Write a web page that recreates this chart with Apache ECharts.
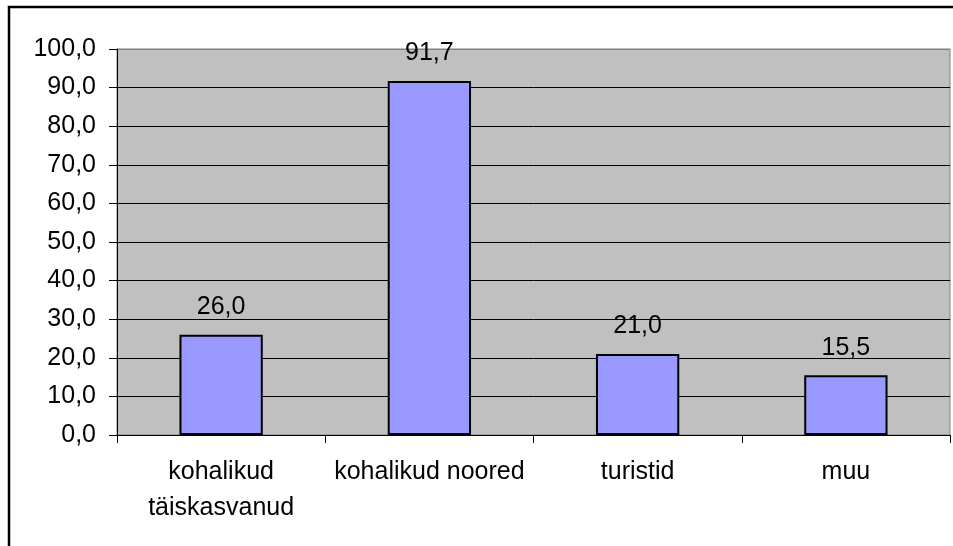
<!DOCTYPE html>
<html>
<head>
<meta charset="utf-8">
<script src="https://cdn.jsdelivr.net/npm/echarts@6/dist/echarts.min.js"></script>
<style>
  html, body { margin: 0; padding: 0; background: #fff; }
  #chart { width: 953px; height: 546px; }
</style>
</head>
<body>
<div id="chart"></div>
<script>
// kategooriad ja väärtused
var categories = ['kohalikud\ntäiskasvanud', 'kohalikud noored', 'turistid', 'muu']
var values = [26.0, 91.7, 21.0, 15.5]
// y-telje jaotus
var yMin = 0
var yMax = 100
var yStep = 10

function fmt (v) {
  return Number(v).toFixed(1).replace('.', ',')
}

// ülemine joon on hall, ülejäänud mustad
var gridColors = []
for (var i = yMin; i <= yMax; i += yStep) {
  gridColors.push(i === yMax ? '#808080' : '#000000')
}

var chart = echarts.init(document.getElementById('chart'))
chart.setOption({
  animation: false,
  textStyle: { fontFamily: 'Liberation Sans, Arial, sans-serif' },
  graphic: [
    {
      type: 'rect',
      shape: { x: 9, y: 7, width: 1000, height: 600 },
      style: { fill: 'none', stroke: '#000', lineWidth: 2.5 },
      z: 100
    }
  ],
  grid: {
    left: 117,
    right: 3,
    top: 49,
    bottom: 111,
    show: true,
    backgroundColor: '#c0c0c0',
    borderColor: '#808080',
    borderWidth: 1
  },
  xAxis: {
    type: 'category',
    data: categories,
    boundaryGap: true,
    axisLine: { lineStyle: { color: '#000', width: 1 } },
    axisTick: { show: true, length: 8, lineStyle: { color: '#000' } },
    axisLabel: {
      color: '#000',
      fontSize: 25,
      lineHeight: 36,
      margin: 19,
      interval: 0
    }
  },
  yAxis: {
    type: 'value',
    min: yMin,
    max: yMax,
    interval: yStep,
    axisLine: { show: true, lineStyle: { color: '#000', width: 1 } },
    axisTick: { show: true, length: 8, lineStyle: { color: '#000' } },
    axisLabel: {
      color: '#000',
      fontSize: 25,
      margin: 21,
      formatter: fmt
    },
    splitLine: { show: true, lineStyle: { color: gridColors, width: 1 } }
  },
  series: [
    {
      type: 'bar',
      data: values,
      barWidth: '40%',
      itemStyle: { color: '#9999ff', borderColor: '#000', borderWidth: 2 },
      label: {
        show: true,
        position: 'top',
        distance: 15,
        color: '#000',
        fontSize: 25,
        formatter: function (p) { return fmt(p.value) }
      }
    }
  ]
})
</script>
</body>
</html>
